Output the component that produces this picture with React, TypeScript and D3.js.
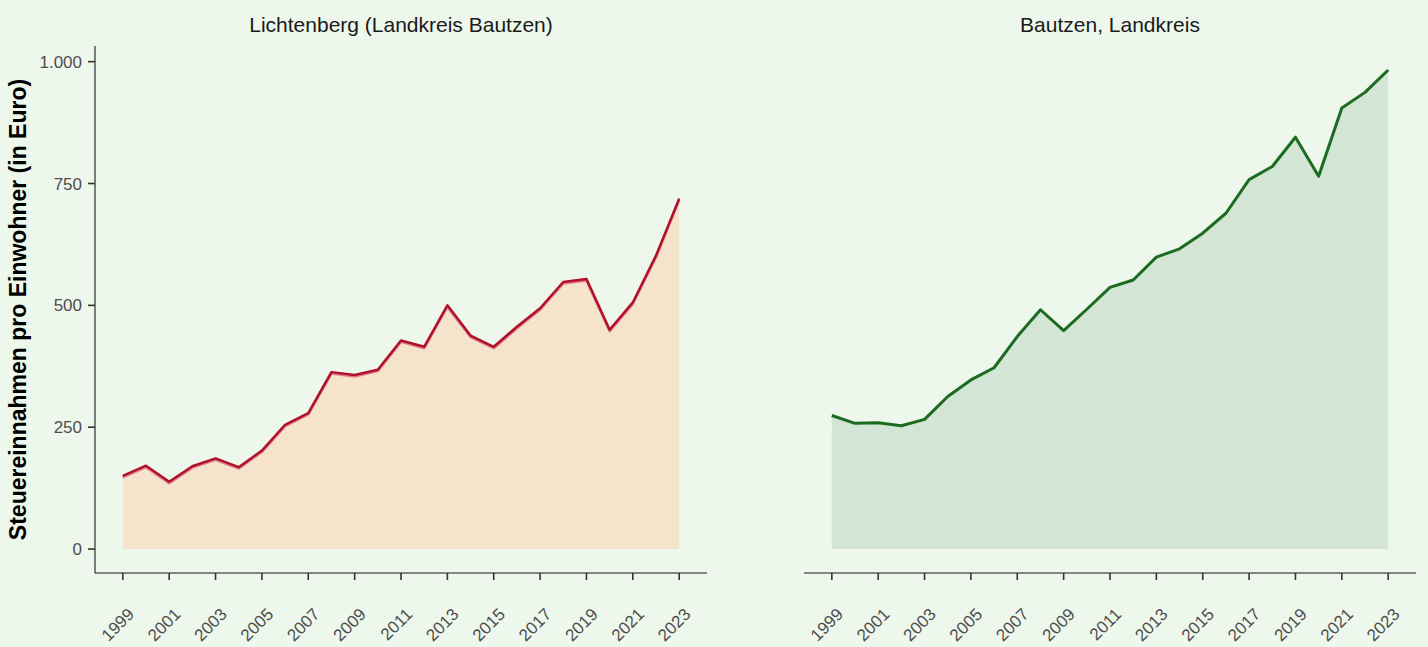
import React from "react";
import * as d3 from "d3";

const years = [1999, 2000, 2001, 2002, 2003, 2004, 2005, 2006, 2007, 2008, 2009, 2010, 2011, 2012, 2013, 2014, 2015, 2016, 2017, 2018, 2019, 2020, 2021, 2022, 2023];
const lichtenberg = [150, 171, 138, 170, 186, 168, 202, 255, 279, 363, 357, 368, 428, 415, 500, 438, 415, 456, 494, 548, 554, 450, 506, 602, 719];
const bautzen = [274, 258, 259, 253, 266, 313, 347, 372, 436, 491, 448, 492, 537, 552, 599, 616, 648, 689, 758, 785, 845, 765, 905, 937, 983];
const yTicks = [0, 250, 500, 750, 1000];
const xTicks = years.filter((y) => y % 2 === 1);
const panelTitles = ["Lichtenberg (Landkreis Bautzen)", "Bautzen, Landkreis"];

const W = 1428;
const H = 647;
const top = 46;
const bottom = 573;
const panelW = 612;
const panelLefts = [95, 804];
const bg = "#edf7ec";
const font = "'Liberation Sans', Arial, sans-serif";

const yMax = d3.max([...lichtenberg, ...bautzen]) as number;
const y = d3.scaleLinear().domain([-0.05 * yMax, 1.05 * yMax]).range([bottom, top]);

const fmt = (v: number) => d3.format(",")(v).replace(/,/g, ".");

type PanelProps = { left: number; values: number[]; title: string; fill: string; stroke: string; light?: string; showY: boolean };

const Panel = ({ left, values, title, fill, stroke, light, showY }: PanelProps) => {
  const x = d3.scaleLinear().domain([1997.8, 2024.2]).range([left, left + panelW]);
  const pts = years.map((yr, i) => [yr, values[i]] as [number, number]);
  const area = d3.area<[number, number]>().x((d) => x(d[0])).y0(y(0)).y1((d) => y(d[1]));
  const line = d3.line<[number, number]>().x((d) => x(d[0])).y((d) => y(d[1]));
  return (
    <g>
      <text x={left + panelW / 2} y={31.5} textAnchor="middle" fontSize={21} fill="#1a1a1a" fontFamily={font}>{title}</text>
      <path d={area(pts) ?? ""} fill={fill} />
      {light && <path d={line(pts) ?? ""} fill="none" stroke={light} strokeWidth={2.8} transform="translate(0,1.3)" strokeLinejoin="round" />}
      <path d={line(pts) ?? ""} fill="none" stroke={stroke} strokeWidth={light ? 2.5 : 3} strokeLinejoin="round" />
      <line x1={left} x2={left + panelW} y1={bottom} y2={bottom} stroke="#1a1a1a" strokeWidth={1.1} />
      {xTicks.map((t) => (
        <g key={t} transform={`translate(${x(t)},${bottom})`}>
          <line y1={0} y2={7} stroke="#333" strokeWidth={1.6} />
          <text transform="translate(4,34) rotate(-45)" textAnchor="end" dy="0.7em" fontSize={17} fill="#4d4d4d" fontFamily={font}>{t}</text>
        </g>
      ))}
      {showY && (
        <g>
          <line x1={left} x2={left} y1={top} y2={bottom} stroke="#1a1a1a" strokeWidth={1.1} />
          {yTicks.map((t) => (
            <g key={t} transform={`translate(${left},${y(t)})`}>
              <line x1={-7} x2={0} stroke="#333" strokeWidth={1.6} />
              <text x={-13} dy="0.36em" textAnchor="end" fontSize={17} fill="#4d4d4d" fontFamily={font}>{fmt(t)}</text>
            </g>
          ))}
          <text transform={`translate(26,${(top + bottom) / 2}) rotate(-90)`} textAnchor="middle" fontSize={23} fontWeight="bold" fill="#000" fontFamily={font}>
            Steuereinnahmen pro Einwohner (in Euro)
          </text>
        </g>
      )}
    </g>
  );
};

export default function App() {
  return (
    <svg width={W} height={H} style={{ position: "absolute", left: 0, top: 0, background: bg }}>
      <rect width={W} height={H} fill={bg} />
      <Panel left={panelLefts[0]} values={lichtenberg} title={panelTitles[0]} fill="#f5e3cb" stroke="#b0102b" light="#e0808c" showY={true} />
      <Panel left={panelLefts[1]} values={bautzen} title={panelTitles[1]} fill="#d3e5d4" stroke="#1b6b20" showY={false} />
    </svg>
  );
}
